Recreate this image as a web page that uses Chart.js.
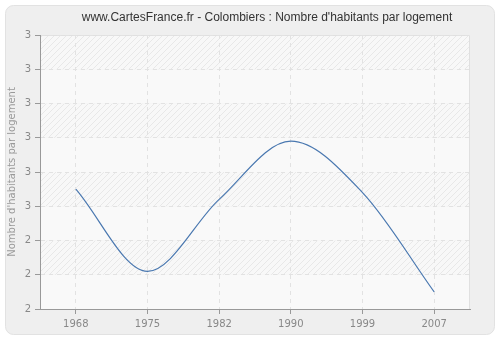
<!DOCTYPE html>
<html>
<head>
<meta charset="utf-8">
<script src="https://cdn.jsdelivr.net/npm/chart.js@4"></script>
<style>
  html, body { margin: 0; padding: 0; background: #ffffff; }
  #wrap { width: 500px; height: 340px; }
</style>
</head>
<body>
<div id="wrap"><canvas id="chart" width="500" height="340"></canvas></div>
<script>
// data
const years = ['1968', '1975', '1982', '1990', '1999', '2007'];
const habitantsParLogement = [2.55, 2.31, 2.52, 2.69, 2.54, 2.25];
const yMin = 2.2;
const yMax = 3.0;
const yStep = 0.1;
const chartTitle = "www.CartesFrance.fr - Colombiers : Nombre d'habitants par logement";

// grey rounded panel, striped plot background and the title
const backgroundPlugin = {
    id: 'background',
    beforeDraw(chart) {
        const { ctx, chartArea, scales } = chart;
        ctx.save();
        ctx.fillStyle = '#ffffff';
        ctx.fillRect(0, 0, chart.width, chart.height);
        ctx.beginPath();
        ctx.roundRect(5.5, 5.5, 489, 329, 8);
        ctx.fillStyle = '#efefef';
        ctx.fill();
        ctx.strokeStyle = '#e2e2e2';
        ctx.lineWidth = 1;
        ctx.stroke();

        // small diagonal hatch tile
        const pc = document.createElement('canvas');
        pc.width = 6; pc.height = 6;
        const p = pc.getContext('2d');
        p.fillStyle = '#f8f8f8';
        p.fillRect(0, 0, 6, 6);
        p.strokeStyle = '#e8e8e8';
        p.lineWidth = 1;
        p.beginPath();
        p.moveTo(0, 6); p.lineTo(6, 0);
        p.moveTo(-3, 3); p.lineTo(3, -3);
        p.moveTo(3, 9); p.lineTo(9, 3);
        p.stroke();
        const hatch = ctx.createPattern(pc, 'repeat');

        const ticks = scales.y.ticks;
        for (let i = 0; i < ticks.length - 1; i++) {
            const yTop = scales.y.getPixelForValue(ticks[i + 1].value);
            const yBot = scales.y.getPixelForValue(ticks[i].value);
            const fromTop = ticks.length - 2 - i;
            ctx.fillStyle = fromTop % 2 === 0 ? hatch : '#f9f9f9';
            ctx.fillRect(chartArea.left, yTop, chartArea.right - chartArea.left, yBot - yTop);
        }

        ctx.strokeStyle = '#e0e0e0';
        ctx.beginPath();
        ctx.moveTo(chartArea.left, chartArea.top + 0.5);
        ctx.lineTo(chartArea.right - 0.5, chartArea.top + 0.5);
        ctx.lineTo(chartArea.right - 0.5, chartArea.bottom);
        ctx.stroke();

        ctx.fillStyle = '#333333';
        ctx.font = '12px "Liberation Sans", Arial, sans-serif';
        ctx.textAlign = 'center';
        ctx.textBaseline = 'middle';
        ctx.fillText(chartTitle, 267, 18);
        ctx.restore();
    }
};

const ctx = document.getElementById('chart').getContext('2d');
const chart = new Chart(ctx, {
    type: 'line',
    data: {
        labels: years,
        datasets: [{
            label: "Nombre d'habitants par logement",
            data: habitantsParLogement,
            borderColor: '#4a78b0',
            borderWidth: 1.2,
            pointRadius: 0,
            fill: false,
            cubicInterpolationMode: 'monotone'
        }]
    },
    options: {
        responsive: false,
        animation: false,
        devicePixelRatio: 1,
        layout: {
            padding: { left: 0, right: 30, top: 35, bottom: 0 }
        },
        plugins: {
            legend: { display: false },
            tooltip: { enabled: false },
            title: { display: false }
        },
        scales: {
            x: {
                offset: true,
                grid: {
                    offset: false,
                    color: '#e2e2e2',
                    tickColor: '#999999',
                    tickLength: 5
                },
                border: { color: '#999999', width: 1, dash: [4, 4] },
                ticks: {
                    color: '#888888',
                    padding: 4,
                    maxRotation: 0,
                    font: { family: 'DejaVu Sans', size: 10 }
                },
                afterFit(scale) { scale.height = 31; }
            },
            y: {
                min: yMin,
                max: yMax,
                grid: {
                    color: '#e2e2e2',
                    tickColor: '#999999',
                    tickLength: 5
                },
                border: { color: '#999999', width: 1, dash: [4, 4] },
                ticks: {
                    stepSize: yStep,
                    color: '#888888',
                    padding: 4,
                    font: { family: 'DejaVu Sans', size: 10 },
                    callback: function (value) {
                        return Math.round(value).toString();
                    }
                },
                title: {
                    display: true,
                    text: "Nombre d'habitants par logement",
                    color: '#999999',
                    font: { family: 'DejaVu Sans', size: 10 },
                    padding: { top: 6, bottom: 0 }
                },
                afterFit(scale) { scale.width = 40; }
            }
        }
    },
    plugins: [backgroundPlugin]
});
</script>
</body>
</html>
